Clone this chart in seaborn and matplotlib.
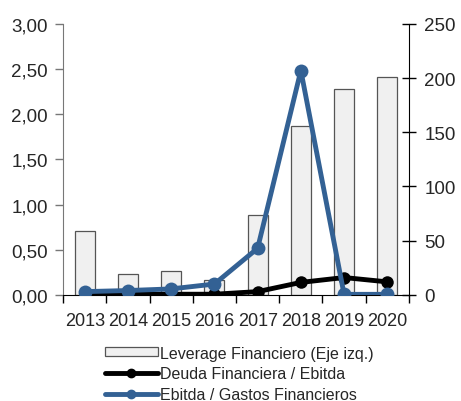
import numpy as np
import pandas as pd
import matplotlib
matplotlib.use("Agg")
import matplotlib.pyplot as plt
from matplotlib.ticker import FuncFormatter, FixedLocator
from matplotlib.lines import Line2D
from matplotlib.patches import Patch
import seaborn as sns

years = ["2013", "2014", "2015", "2016", "2017", "2018", "2019", "2020"]
leverage = [0.71, 0.23, 0.26, 0.16, 0.88, 1.87, 2.28, 2.41]
deuda_ebitda = [0.6, 0.6, 0.6, 0.6, 3.0, 11.5, 16.0, 12.0]
ebitda_gastos = [3.0, 4.0, 5.5, 10.0, 43.0, 207.0, 0.5, 0.5]

sns.set_style("white")
plt.rcParams["font.family"] = ["Liberation Sans", "DejaVu Sans"]

df = pd.DataFrame({"year": years, "lev": leverage, "deuda": deuda_ebitda, "ebitda": ebitda_gastos})

fig = plt.figure(figsize=(4.61, 4.02), dpi=100)
ax = fig.add_axes([0.137, 0.264, 0.75, 0.674])

sns.barplot(data=df, x="year", y="lev", ax=ax, color="#f0f0f0", edgecolor="#555555",
            linewidth=0.9, width=0.46, saturation=1)
ax.set_ylim(0, 3)
ax.set_yticks(np.arange(0, 3.01, 0.5))
ax.yaxis.set_major_formatter(FuncFormatter(lambda v, p: f"{v:.2f}".replace(".", ",")))
ax.set_xlabel("")
ax.set_ylabel("")

ax2 = ax.twinx()
x = np.arange(len(years))
sns.lineplot(x=x, y=df["deuda"], ax=ax2, color="black", linewidth=3.5,
             marker="o", markersize=9, markeredgewidth=0)
sns.lineplot(x=x, y=df["ebitda"], ax=ax2, color="#336194", linewidth=3.5,
             marker="o", markersize=10, markeredgewidth=0)
ax2.set_ylim(0, 250)
ax2.set_yticks(np.arange(0, 251, 50))
ax2.set_ylabel("")
ax.set_xlim(-0.5, len(years) - 0.5)
ax2.set_xlim(-0.5, len(years) - 0.5)

# ticks between categories
ax.xaxis.set_major_locator(FixedLocator(x))
ax.set_xticklabels(years)
ax.xaxis.set_minor_locator(FixedLocator(np.arange(-0.5, len(years), 1.0)))
ax.tick_params(axis="x", which="major", length=0, labelsize=13, pad=12)
ax.tick_params(axis="x", which="minor", length=6, width=1, color="black", direction="out", bottom=True)
ax.tick_params(axis="y", length=6, width=1, color="#777777", direction="out", labelsize=13.5, left=True, pad=5)
ax2.tick_params(axis="y", length=10, width=1, color="black", direction="inout", labelsize=13.5, right=True, pad=6)

for a in (ax, ax2):
    a.spines["top"].set_visible(False)
ax.spines["left"].set_color("#777777")
ax.spines["bottom"].set_color("black")
ax2.spines["left"].set_visible(False)
ax2.spines["bottom"].set_visible(False)
ax2.spines["right"].set_color("black")
ax.spines["right"].set_visible(False)

handles = [
    Patch(facecolor="#f0f0f0", edgecolor="#555555", linewidth=0.9),
    Line2D([0], [0], color="black", linewidth=3.5, marker="o", markersize=6),
    Line2D([0], [0], color="#336194", linewidth=3.5, marker="o", markersize=6),
]
labels = ["Leverage Financiero (Eje izq.)", "Deuda Financiera / Ebitda", "Ebitda / Gastos Financieros"]
fig.legend(handles, labels, loc="upper left", bbox_to_anchor=(0.228, 0.138), frameon=False,
           fontsize=11.5, handlelength=3.3, handleheight=0.5, handletextpad=0.15, labelspacing=0.35,
           borderpad=0, borderaxespad=0)

fig.savefig("out.png", dpi=100)
